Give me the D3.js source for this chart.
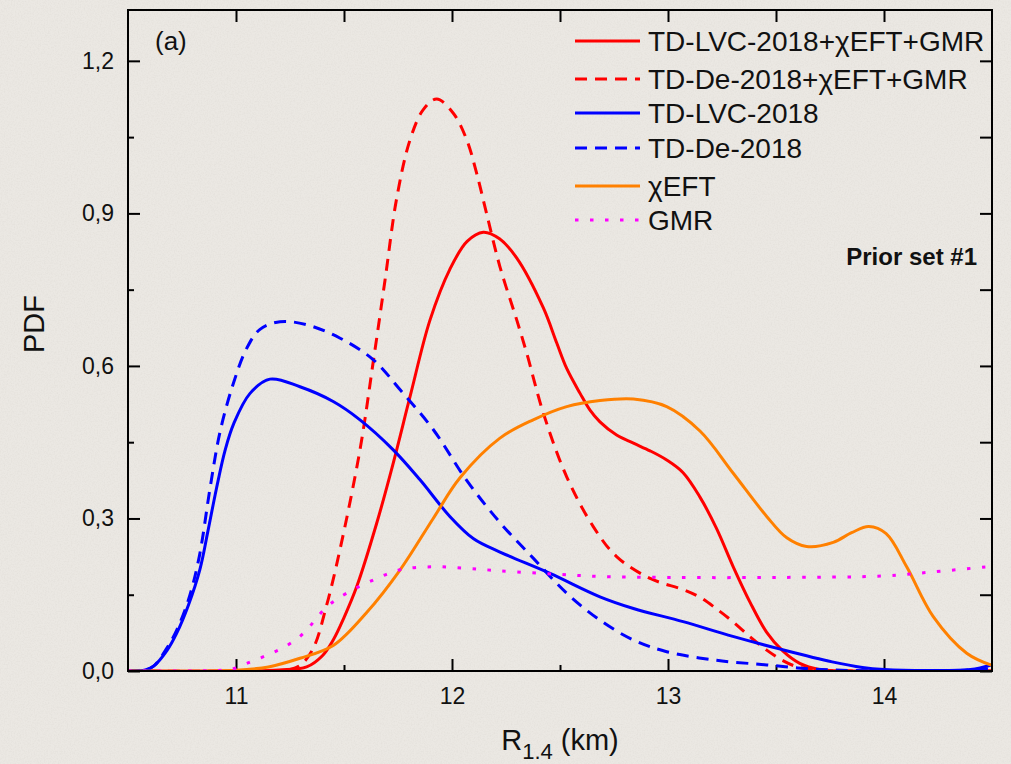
<!DOCTYPE html>
<html>
<head>
<meta charset="utf-8">
<script src="https://cdn.jsdelivr.net/npm/d3@7"></script>
<style>
  body { margin: 0; background: #e9e6e1; }
  svg { display: block; font-family: "Liberation Sans", Arial, sans-serif; }
  .frame { fill: none; stroke: #000; stroke-width: 2; }
  .tick line { stroke: #000; stroke-width: 2; }
  .tick text { font-size: 23px; fill: #111; }
</style>
</head>
<body>
<div id="chart"></div>
<script>
const WIDTH = 1011;
const HEIGHT = 764;
const LEFT = 128, RIGHT = 992, TOP = 10, BOTTOM = 671;

// x in km, y = PDF
var tdLvcGmr = [[10.5,0],[11.0,0],[11.2,0.002],[11.327,0.008],[11.4,0.03],[11.45,0.061],[11.5,0.105],
  [11.559,0.166],[11.651,0.29],[11.728,0.409],[11.806,0.54],[11.898,0.69],[11.99,0.79],
  [12.07,0.845],[12.145,0.863],[12.22,0.85],[12.3,0.812],[12.423,0.714],[12.485,0.645],[12.531,0.595],
  [12.593,0.546],[12.639,0.513],[12.685,0.49],[12.762,0.464],[12.84,0.448],[12.917,0.433],[12.994,0.415],
  [13.07,0.39],[13.148,0.342],[13.225,0.28],[13.302,0.205],[13.38,0.135],[13.457,0.076],[13.53,0.04],
  [13.61,0.015],[13.7,0.003],[13.85,0],[14.5,0]];
var tdDeGmr = [[10.5,0],[11.1,0],[11.25,0.003],[11.3,0.012],[11.358,0.045],[11.42,0.13],
  [11.481,0.238],[11.574,0.435],[11.636,0.61],[11.69,0.769],[11.744,0.93],[11.806,1.045],[11.867,1.104],
  [11.929,1.125],[12.006,1.097],[12.068,1.045],[12.114,0.979],[12.16,0.9],[12.222,0.795],[12.3,0.69],
  [12.346,0.625],[12.423,0.507],[12.531,0.382],[12.654,0.284],[12.762,0.225],[12.917,0.182],[13.07,0.16],
  [13.148,0.145],[13.225,0.122],[13.3,0.097],[13.38,0.067],[13.457,0.041],[13.534,0.02],[13.6,0.008],
  [13.7,0.002],[13.85,0],[14.5,0]];
var tdLvc = [[10.5,0],[10.58,0.002],[10.62,0.01],[10.68,0.04],[10.725,0.074],[10.78,0.13],[10.833,0.2],
  [10.87,0.275],[10.91,0.36],[10.95,0.435],[10.99,0.487],[11.065,0.546],[11.157,0.574],[11.296,0.559],
  [11.45,0.53],[11.574,0.494],[11.728,0.435],[11.852,0.376],[11.99,0.304],[12.1,0.26],[12.222,0.234],
  [12.454,0.192],[12.685,0.146],[12.84,0.123],[13.07,0.097],[13.3,0.068],[13.52,0.043],
  [13.76,0.018],[13.9,0.007],[14.0,0.003],[14.2,0.001],[14.4,0.003],[14.5,0.012]];
var tdDe = [[10.5,0],[10.58,0.002],[10.62,0.01],[10.68,0.045],[10.725,0.08],[10.78,0.14],[10.83,0.225],
  [10.88,0.36],[10.926,0.47],[10.988,0.566],[11.05,0.635],[11.111,0.672],[11.204,0.687],[11.327,0.681],
  [11.48,0.655],[11.636,0.612],[11.76,0.553],[11.913,0.475],[12.068,0.375],[12.222,0.292],[12.376,0.222],
  [12.531,0.153],[12.685,0.1],[12.84,0.061],[12.994,0.038],[13.225,0.021],[13.457,0.012],
  [13.6,0.006],[13.765,0.002],[14.0,0],[14.3,0],[14.5,0.005]];
var chiEft = [[10.5,0],[10.9,0],[11.05,0.003],[11.15,0.008],[11.296,0.025],[11.45,0.05],
  [11.605,0.115],[11.76,0.199],[11.913,0.3],[12.037,0.38],[12.222,0.458],
  [12.376,0.494],[12.531,0.52],[12.685,0.532],[12.84,0.535],[12.994,0.52],[13.148,0.472],[13.302,0.389],
  [13.457,0.304],[13.55,0.262],[13.642,0.245],[13.765,0.253],[13.85,0.272],[13.93,0.284],[14.01,0.27],
  [14.105,0.205],[14.228,0.107],[14.383,0.035],[14.5,0.011]];
var gmr = [[10.5,0],[10.95,0.002],[11.0,0.006],[11.05,0.015],[11.165,0.035],[11.235,0.05],[11.296,0.068],
  [11.34,0.087],[11.42,0.126],[11.512,0.153],[11.636,0.179],[11.76,0.199],[11.913,0.205],[12.068,0.202],
  [12.222,0.197],[12.5,0.19],[12.685,0.186],[13.0,0.184],[13.5,0.184],[14.0,0.187],[14.23,0.195],[14.5,0.206]];

var seriesNames = ["TD-LVC-2018+\u03c7EFT+GMR", "TD-De-2018+\u03c7EFT+GMR", "TD-LVC-2018", "TD-De-2018", "\u03c7EFT", "GMR"];
var xMajorTicks = [11, 12, 13, 14];
var xMinorTicks = [11.5, 12.5, 13.5];
var yMajorTicks = [0, 0.3, 0.6, 0.9, 1.2];
var yMinorTicks = [0.15, 0.45, 0.75, 1.05];

var series = [
  { name: seriesNames[0], data: tdLvcGmr, color: "#ff0000", dash: null },
  { name: seriesNames[1], data: tdDeGmr, color: "#ff0000", dash: "12,8" },
  { name: seriesNames[2], data: tdLvc, color: "#0000ff", dash: null },
  { name: seriesNames[3], data: tdDe, color: "#0000ff", dash: "12,8" },
  { name: seriesNames[4], data: chiEft, color: "#ff8000", dash: null },
  { name: seriesNames[5], data: gmr, color: "#ff00ff", dash: "3.5,11.5" }
];

var svg = d3.select("#chart").append("svg")
  .attr("width", WIDTH).attr("height", HEIGHT);

// paper texture
var defs = svg.append("defs");
var f = defs.append("filter").attr("id", "paper").attr("x", 0).attr("y", 0).attr("width", "100%").attr("height", "100%");
f.append("feTurbulence").attr("type", "fractalNoise").attr("baseFrequency", 0.7).attr("numOctaves", 3).attr("seed", 4);
f.append("feColorMatrix").attr("type", "matrix")
  .attr("values", "0 0 0 0 0.45  0 0 0 0 0.42  0 0 0 0 0.38  0 0 0 -0.9 0.55");
svg.append("rect").attr("width", WIDTH).attr("height", HEIGHT).attr("fill", "#ebe8e3");
svg.append("rect").attr("width", WIDTH).attr("height", HEIGHT).attr("filter", "url(#paper)").attr("opacity", 0.25);

var x = d3.scaleLinear().domain([10.5, 14.5]).range([LEFT, RIGHT]);
var y = d3.scaleLinear().domain([0, 1.3]).range([BOTTOM, TOP]);

var comma = function(d) { return d3.format(".1f")(d).replace(".", ","); };

function addAxis(axis, tx, ty) {
  var g = svg.append("g").attr("transform", "translate(" + tx + "," + ty + ")").call(axis);
  g.select(".domain").remove();
  return g;
}

addAxis(d3.axisBottom(x).tickValues(xMajorTicks).tickSize(-12).tickPadding(17).tickFormat(d3.format("d")), 0, BOTTOM);
addAxis(d3.axisBottom(x).tickValues(xMinorTicks).tickSize(-6).tickFormat(""), 0, BOTTOM);
addAxis(d3.axisTop(x).tickValues(xMajorTicks.concat(xMinorTicks)).tickSize(-12).tickFormat(""), 0, TOP);
addAxis(d3.axisLeft(y).tickValues(yMajorTicks).tickSize(-12).tickPadding(14).tickFormat(comma), LEFT, 0);
addAxis(d3.axisLeft(y).tickValues(yMinorTicks).tickSize(-6).tickFormat(""), LEFT, 0);
addAxis(d3.axisRight(y).tickValues(yMajorTicks.concat(yMinorTicks)).tickSize(-12).tickFormat(""), RIGHT, 0);

var line = d3.line()
  .x(function(d) { return x(d[0]); })
  .y(function(d) { return y(Math.max(0, d[1])); })
  .curve(d3.curveCatmullRom.alpha(0.5));

svg.append("clipPath").attr("id", "plotclip").append("rect")
  .attr("x", LEFT).attr("y", TOP).attr("width", RIGHT - LEFT).attr("height", BOTTOM - TOP);

var plot = svg.append("g").attr("clip-path", "url(#plotclip)");
series.forEach(function(s) {
  plot.append("path")
    .attr("d", line(s.data))
    .attr("fill", "none")
    .attr("stroke", s.color)
    .attr("stroke-width", 3)
    .attr("stroke-dasharray", s.dash);
});

svg.append("rect").attr("class", "frame")
  .attr("x", LEFT).attr("y", TOP).attr("width", RIGHT - LEFT).attr("height", BOTTOM - TOP);

// legend
var legendY = [41, 79, 113, 148, 186, 220];
var legend = svg.append("g");
series.forEach(function(s, i) {
  legend.append("line")
    .attr("x1", 575).attr("x2", 640)
    .attr("y1", legendY[i]).attr("y2", legendY[i])
    .attr("stroke", s.color).attr("stroke-width", 3)
    .attr("stroke-dasharray", s.dash);
  legend.append("text")
    .attr("x", 648).attr("y", legendY[i] + 10)
    .attr("font-size", 28).attr("fill", "#111")
    .text(s.name);
});

svg.append("text").attr("x", 155).attr("y", 50).attr("font-size", 26).attr("fill", "#111").text("(a)");
svg.append("text").attr("x", 977).attr("y", 265).attr("text-anchor", "end")
  .attr("font-size", 24).attr("font-weight", "bold").attr("fill", "#111").text("Prior set #1");

svg.append("text")
  .attr("transform", "translate(44,324) rotate(-90)")
  .attr("text-anchor", "middle").attr("font-size", 29).attr("fill", "#111")
  .text("PDF");

var xt = svg.append("text").attr("x", 560).attr("y", 750).attr("text-anchor", "middle")
  .attr("font-size", 29).attr("fill", "#111");
xt.append("tspan").text("R");
xt.append("tspan").attr("font-size", 22).attr("dy", 9).text("1.4");
xt.append("tspan").attr("dy", -9).text(" (km)");
</script>
</body>
</html>
